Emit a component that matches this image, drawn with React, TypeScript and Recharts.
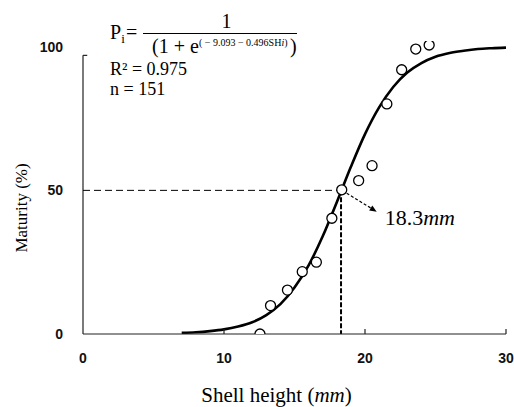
import React from 'react';
import { ComposedChart, Line, Scatter, XAxis, YAxis, ReferenceLine } from 'recharts';

// ---- data ----
const xTicks = [0, 10, 20, 30];
const yTicks = [0, 50, 100];

const observedHeight = [12.55, 13.3, 14.5, 15.55, 16.55, 17.65, 18.35, 19.55, 20.5, 21.55, 22.6, 23.6, 24.55];
const observedMaturity = [0, 9.9, 15.3, 21.7, 25.0, 40.3, 50.2, 53.4, 58.6, 80.1, 92.0, 99.2, 100.6];

const curveHeight = [7, 8, 9, 10, 11, 12, 13, 14, 15, 16, 17, 18, 19, 20, 21, 22, 23, 24, 25, 26, 27, 28, 29, 30];
const curveMaturity = [0.4, 0.6, 1.0, 1.6, 2.6, 4.1, 6.6, 10.4, 16.2, 23.9, 34.0, 45.9, 58.2, 69.6, 78.9, 86.0, 91.0, 94.3, 96.5, 97.8, 98.6, 99.2, 99.5, 99.7];

const l50Height = 18.3;
const l50Maturity = 50;
const arrowStart = { x: 18.7, y: 49 };
const arrowEnd = { x: 20.83, y: 42.6 };
const yAxisTop = 97;
const yDomainMax = 102;

const curveData = curveHeight.map((x, i) => ({ x, y: curveMaturity[i] }));
const pointData = observedHeight.map((x, i) => ({ x, y: observedMaturity[i] }));

const SERIF = '"Liberation Serif", "Times New Roman", serif';
const SANS = '"Liberation Sans", Arial, sans-serif';
const X_TICK_MARGIN = 19;

const XTick = (props: any) => {
  const { x, y, payload } = props;
  const axisY = y - X_TICK_MARGIN;
  return (
    <g>
      {payload.value !== 0 && (
        <line x1={x} x2={x} y1={axisY} y2={axisY - 5} stroke="#222" strokeWidth={1.2} />
      )}
      <text x={x} y={y} dy="0.71em" textAnchor="middle" fontFamily={SANS} fontWeight="bold" fontSize={14} fill="#111">
        {payload.value}
      </text>
    </g>
  );
};

const Dot = (p: any) => (
  <circle cx={p.cx} cy={p.cy} r={5} fill="#fff" stroke="#000" strokeWidth={1.3} />
);

const ArrowShape = (p: any) => {
  const { x1, y1, x2, y2 } = p;
  const dx = x2 - x1;
  const dy = y2 - y1;
  const len = Math.sqrt(dx * dx + dy * dy) || 1;
  const ux = dx / len;
  const uy = dy / len;
  const hl = 7;
  const hw = 3;
  const bx = x2 - ux * hl;
  const by = y2 - uy * hl;
  return (
    <g>
      <line x1={x1} y1={y1} x2={bx} y2={by} stroke="#000" strokeWidth={1.2} strokeDasharray="3 2" />
      <polygon
        points={`${x2},${y2} ${bx - uy * hw},${by + ux * hw} ${bx + uy * hw},${by - ux * hw}`}
        fill="#000"
      />
      <text x={x2 + 8} y={y2 + 13} fontFamily={SERIF} fontSize={22} fill="#000">
        18.3<tspan fontStyle="italic">mm</tspan>
      </text>
    </g>
  );
};

const XLabel = (p: any) => {
  const vb = p.viewBox || {};
  return (
    <text x={vb.x + vb.width / 2 - 18} y={vb.y + 68} textAnchor="middle" fontFamily={SERIF} fontSize={21} fill="#000">
      Shell height (<tspan fontStyle="italic">mm</tspan>)
    </text>
  );
};

const YLabel = () => {
  const cx = 21;
  const cy = 208;
  return (
    <text x={cx} y={cy} transform={`rotate(-90 ${cx} ${cy})`} textAnchor="middle" dominantBaseline="central" fontFamily={SERIF} fontSize={17} fill="#000">
      Maturity (%)
    </text>
  );
};

const Equation = () => (
  <svg width={514} height={110} style={{ position: 'absolute', left: 0, top: 0, pointerEvents: 'none' }}>
    <g fontFamily={SERIF} fill="#000">
      <text x={110} y={39} fontSize={20}>P<tspan fontSize={13} dy={4}>i</tspan></text>
      <text x={126} y={39} fontSize={20}>=</text>
      <line x1={143} x2={297} y1={33.5} y2={33.5} stroke="#000" strokeWidth={1.1} />
      <text x={226.5} y={28} fontSize={20} textAnchor="middle">1</text>
      <text x={152} y={53} fontSize={20}>(1 + e</text>
      <text x={199} y={46} fontSize={10}>( − 9.093 − 0.496SH<tspan fontStyle="italic">i</tspan>)</text>
      <text x={290} y={53} fontSize={20}>)</text>
      <text x={110} y={75} fontSize={18}>R² = 0.975</text>
      <text x={110} y={95} fontSize={18}>n = 151</text>
    </g>
  </svg>
);

export default function App() {
  return (
    <div style={{ position: 'absolute', left: 0, top: 0, width: 514, height: 407, background: '#fff' }}>
      <ComposedChart width={514} height={407} margin={{ top: 41, right: 8, bottom: 43, left: 23 }}>
        <XAxis
          type="number"
          dataKey="x"
          domain={[0, 30]}
          ticks={xTicks}
          allowDataOverflow
          height={30}
          tickSize={0}
          tickMargin={X_TICK_MARGIN}
          tickLine={false}
          tick={<XTick />}
          axisLine={{ stroke: '#222', strokeWidth: 1.2 }}
          label={<XLabel />}
        />
        <YAxis
          type="number"
          dataKey="y"
          domain={[0, yDomainMax]}
          ticks={yTicks}
          allowDataOverflow
          width={60}
          tickSize={0}
          tickMargin={20}
          tickLine={false}
          axisLine={false}
          tick={{ fill: '#111', fontSize: 14, fontFamily: SANS, fontWeight: 'bold' }}
          label={<YLabel />}
        />
        <ReferenceLine segment={[{ x: 0, y: 0 }, { x: 0, y: yAxisTop }]} stroke="#222" strokeWidth={1.2} ifOverflow="visible" />
        <ReferenceLine segment={[{ x: 0, y: yAxisTop }, { x: 0.3, y: yAxisTop }]} stroke="#222" strokeWidth={1.2} ifOverflow="visible" />
        <ReferenceLine segment={[{ x: 0, y: l50Maturity }, { x: l50Height, y: l50Maturity }]} stroke="#000" strokeWidth={1} strokeDasharray="7 4" ifOverflow="visible" />
        <ReferenceLine segment={[{ x: l50Height, y: l50Maturity }, { x: l50Height, y: 0 }]} stroke="#000" strokeWidth={2} strokeDasharray="5 2" ifOverflow="visible" />
        <Line data={curveData} dataKey="y" type="monotone" stroke="#000" strokeWidth={2.6} dot={false} activeDot={false} isAnimationActive={false} />
        <Scatter data={pointData} dataKey="y" shape={<Dot />} isAnimationActive={false} />
        <ReferenceLine segment={[arrowStart, arrowEnd]} shape={<ArrowShape />} ifOverflow="visible" />
      </ComposedChart>
      <Equation />
    </div>
  );
}
